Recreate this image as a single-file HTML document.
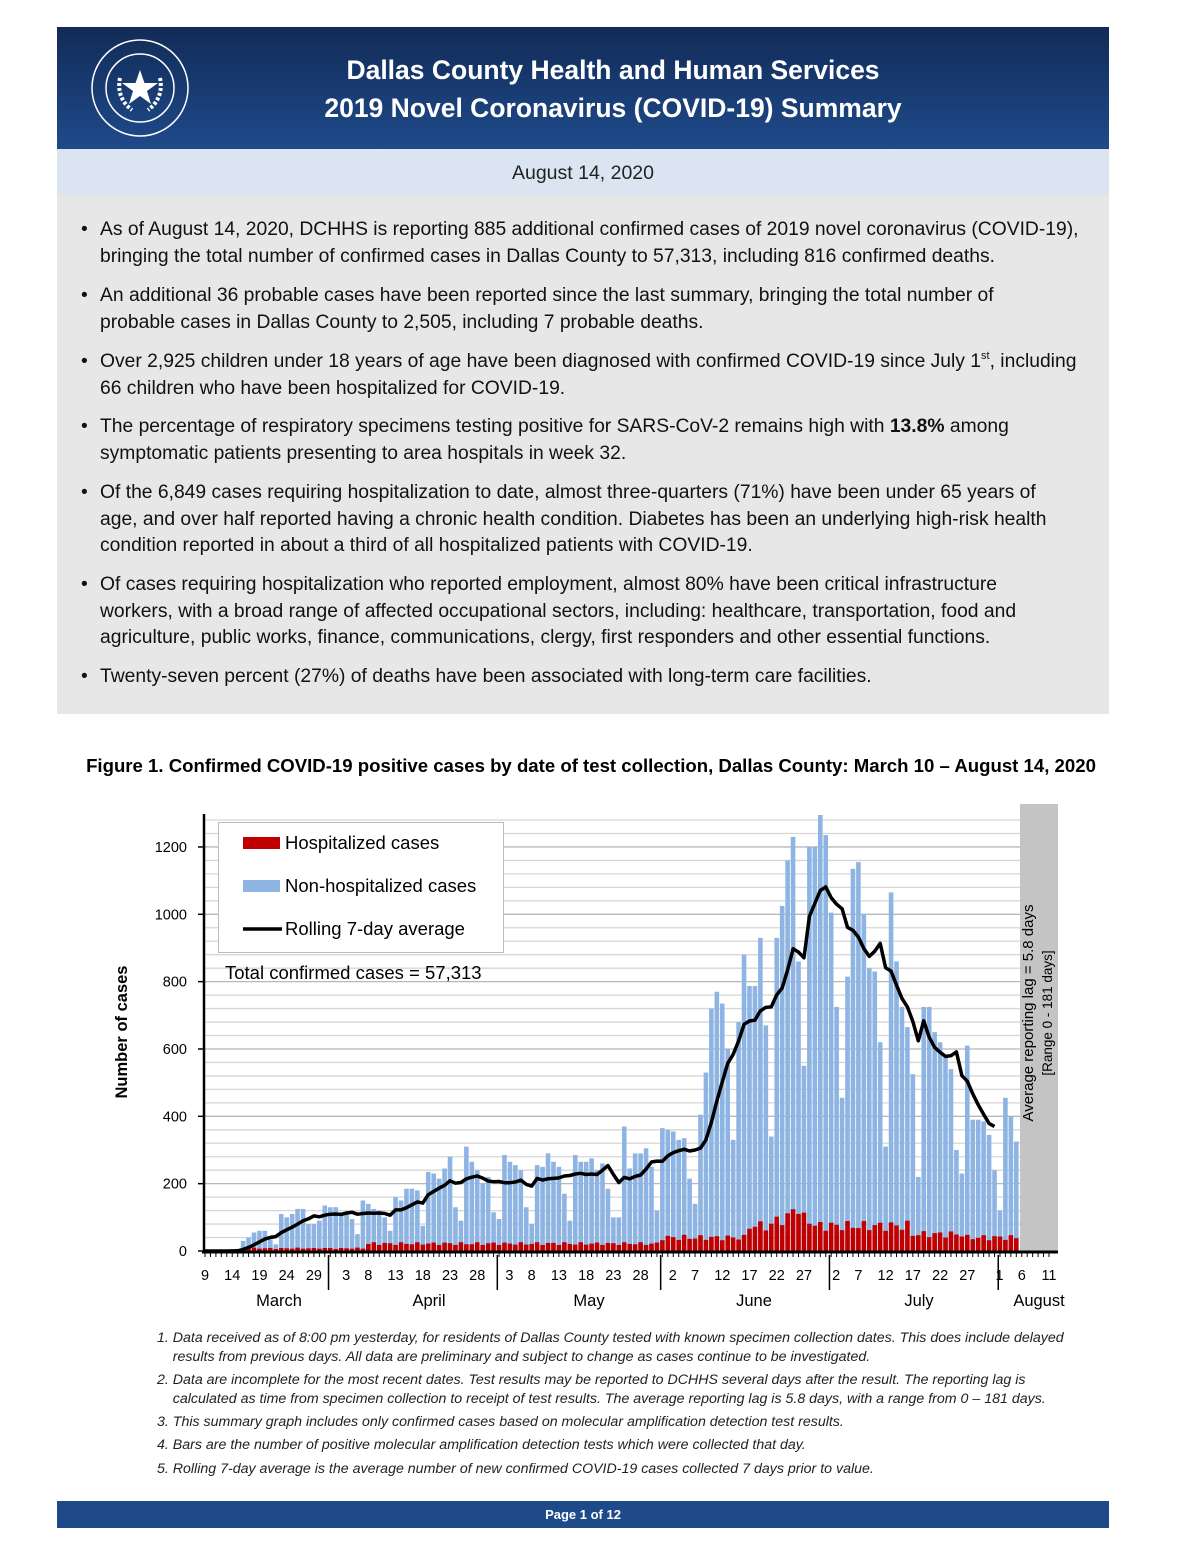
<!DOCTYPE html>
<html><head><meta charset="utf-8"><style>
*{margin:0;padding:0}
body{width:1200px;height:1554px;background:#fff;position:relative;font-family:"Liberation Sans",sans-serif;overflow:hidden}
.abs{position:absolute}
#hdr{left:57px;top:27px;width:1052px;height:122px;background:linear-gradient(#112b57,#1f4a8a)}
#hdr .t{position:absolute;left:156px;width:800px;text-align:center;color:#fff;font-weight:bold;font-size:26.5px;line-height:38px;top:24px;white-space:nowrap}
#date{left:57px;top:149px;width:1052px;height:46px;background:#dbe5f1;text-align:center;font-size:19.5px;line-height:48px;color:#222}
#box{left:57px;top:195px;width:1052px;height:519px;background:#e7e7e7}
.b{position:absolute;left:100px;font-size:19.3px;line-height:26.5px;color:#111;white-space:nowrap}
.b:before{content:"\2022";position:absolute;left:-19px}
sup{font-size:11px;line-height:0;vertical-align:0;position:relative;top:-8px}
#ft{left:57px;top:1501px;width:1052px;height:27px;background:#1f4a8a;color:#fff;font-weight:bold;font-size:13px;text-align:center;line-height:27px}
.fn{position:absolute;left:157px;font-style:italic;font-size:14.2px;line-height:19px;color:#222;white-space:nowrap}
</style></head><body>
<div id="hdr" class="abs">
<svg class="abs" style="left:33px;top:11px" width="100" height="100" viewBox="0 0 100 100">
<circle cx="50" cy="50" r="48" fill="none" stroke="#fff" stroke-width="1.5"/>
<circle cx="50" cy="50" r="34" fill="none" stroke="#fff" stroke-width="1.5"/>
<polygon points="50,32 54.5,45 68,45 57,53 61,66 50,58 39,66 43,53 32,45 45.5,45" fill="#fff"/>
<path d="M30,40 Q26,60 42,72 M70,40 Q74,60 58,72" stroke="#fff" stroke-width="4" fill="none" stroke-dasharray="3 2"/>
</svg>
<div class="t">Dallas County Health and Human Services<br>2019 Novel Coronavirus (COVID-19) Summary</div>
</div>
<div id="date" class="abs">August 14, 2020</div>
<div id="box" class="abs"></div>
<div class="b" style="top:217px">As of August 14, 2020, DCHHS is reporting 885 additional confirmed cases of 2019 novel coronavirus (COVID-19),<br>bringing the total number of confirmed cases in Dallas County to 57,313, including 816 confirmed deaths.</div>
<div class="b" style="top:283px">An additional 36 probable cases have been reported since the last summary, bringing the total number of<br>probable cases in Dallas County to 2,505, including 7 probable deaths.</div>
<div class="b" style="top:349px">Over 2,925 children under 18 years of age have been diagnosed with confirmed COVID-19 since July 1<sup>st</sup>, including<br>66 children who have been hospitalized for COVID-19.</div>
<div class="b" style="top:414px">The percentage of respiratory specimens testing positive for SARS-CoV-2 remains high with <b>13.8%</b> among<br>symptomatic patients presenting to area hospitals in week 32.</div>
<div class="b" style="top:480px">Of the 6,849 cases requiring hospitalization to date, almost three-quarters (71%) have been under 65 years of<br>age, and over half reported having a chronic health condition.  Diabetes has been an underlying high-risk health<br>condition reported in about a third of all hospitalized patients with COVID-19.</div>
<div class="b" style="top:572px">Of cases requiring hospitalization who reported employment, almost 80% have been critical infrastructure<br>workers, with a broad range of affected occupational sectors, including: healthcare, transportation, food and<br>agriculture, public works, finance, communications, clergy, first responders and other essential functions.</div>
<div class="b" style="top:664px">Twenty-seven percent (27%) of deaths have been associated with long-term care facilities.</div>
<div class="abs" style="left:0;width:1182px;text-align:center;top:755px;font-weight:bold;font-size:18.6px;white-space:nowrap">Figure 1. Confirmed COVID-19 positive cases by date of test collection, Dallas County: March 10 – August 14, 2020</div>
<svg id="ch" class="abs" style="left:0;top:0" width="1200" height="1554"></svg>
<div class="fn" style="top:1329px">1.  Data received as of 8:00 pm yesterday, for residents of Dallas County tested with known specimen collection dates.  This does include delayed<br>&nbsp;&nbsp;&nbsp;&nbsp;results from previous days. All data are preliminary and subject to change as cases continue to be investigated.</div>
<div class="fn" style="top:1371px">2.  Data are incomplete for the most recent dates. Test results may be reported to DCHHS several days after the result. The reporting lag is<br>&nbsp;&nbsp;&nbsp;&nbsp;calculated as time from specimen collection to receipt of test results. The average reporting lag is 5.8 days, with a range from 0 – 181 days.</div>
<div class="fn" style="top:1413px">3.  This summary graph includes only confirmed cases based on molecular amplification detection test results.</div>
<div class="fn" style="top:1436px">4.  Bars are the number of positive molecular amplification detection tests which were collected that day.</div>
<div class="fn" style="top:1460px">5.  Rolling 7-day average is the average number of new confirmed COVID-19 cases collected 7 days prior to value.</div>
<div id="ft" class="abs">Page 1 of 12</div>
<script>
var T=[0,0,0,0,1,1,2,30,40,55,60,60,35,20,110,100,110,125,125,80,80,90,135,130,130,115,110,95,50,150,140,125,120,100,60,160,150,185,185,180,75,235,230,215,245,280,130,90,310,265,240,200,220,115,95,285,265,255,240,130,80,255,250,290,265,250,170,90,285,265,265,275,240,260,185,100,100,370,245,290,290,305,250,120,365,360,355,330,335,215,140,405,530,720,770,735,600,330,680,880,787,787,930,670,340,930,1025,1160,1230,860,550,1200,1200,1295,1235,1005,725,455,815,1135,1155,1000,840,830,620,310,1065,860,725,665,525,220,725,725,650,620,580,540,300,230,610,390,390,385,345,240,120,455,400,325];
function H(i){var t=T[i];if(!t)return 0;var b=i<30?8:i<84?22:i<100?40:i<112?75:i<130?75:i<140?50:40;
b=i>=105&&i<=111?95+ (i==108?35:i==109?30:0):b;return Math.min(t,Math.round(b+ (Math.sin(i*2.3)*0.2*b)));}
var X0=205,DW=5.445,Y0=1251,S=0.3367,s='';
function y(v){return Y0-v*S}
for(var v=40;v<=1280;v+=40){s+='<line x1="204" x2="1020" y1="'+y(v)+'" y2="'+y(v)+'" stroke="'+(v%200?'#d6d6d6':'#b8b8b8')+'" stroke-width="1.3"/>';}
s+='<rect x="1020" y="804" width="38" height="447" fill="#c4c4c4"/>';
for(var i=0;i<T.length;i++){var x=X0+i*DW-2.3,t=T[i],h=H(i);if(t){s+='<rect x="'+x+'" y="'+y(t)+'" width="4.6" height="'+(t*S)+'" fill="#8eb4e3"/>';s+='<rect x="'+x+'" y="'+y(h)+'" width="4.6" height="'+(h*S)+'" fill="#c00000"/>';}}
var p=[];for(var i=0;i<=145;i++){var a=0;for(var k=i-6;k<=i;k++)a+=(T[k]||0);a/=7;p.push((X0+i*DW).toFixed(1)+','+y(a).toFixed(1));}
s+='<polyline points="'+p.join(' ')+'" fill="none" stroke="#000" stroke-width="3.5" stroke-linejoin="round"/>';
s+='<line x1="204" x2="204" y1="814" y2="1253" stroke="#000" stroke-width="2.5"/>';
s+='<line x1="202" x2="1058" y1="1252" y2="1252" stroke="#000" stroke-width="3"/>';
for(var i=0;i<=155;i++){var x=X0+i*DW;s+='<line x1="'+x+'" x2="'+x+'" y1="1252" y2="1257" stroke="#000" stroke-width="1"/>';}
for(var v=0;v<=1200;v+=200){s+='<line x1="198" x2="204" y1="'+y(v)+'" y2="'+y(v)+'" stroke="#000" stroke-width="1.5"/><text x="187" y="'+(y(v)+5)+'" text-anchor="end" font-size="14.5">'+v+'</text>';}
var L=[[0,9],[5,14],[10,19],[15,24],[20,29],[25,3],[30,8],[35,13],[40,18],[45,23],[50,28],[55,3],[60,8],[65,13],[70,18],[75,23],[80,28],[85,2],[90,7],[95,12],[100,17],[105,22],[110,27],[115,2],[120,7],[125,12],[130,17],[135,22],[140,27],[145,1],[150,6],[155,11]];
L.forEach(function(l){s+='<text x="'+(X0+l[0]*DW+(l[1]<4?5:0))+'" y="1280" text-anchor="middle" font-size="14.5">'+l[1]+'</text>';});
[23,54,84,115,146].forEach(function(d){var x=X0+(d-0.5)*DW+1;s+='<line x1="'+x+'" x2="'+x+'" y1="1255" y2="1290" stroke="#000" stroke-width="1.5"/>';});
[["March",279],["April",429],["May",589],["June",754],["July",919],["August",1039]].forEach(function(m){s+='<text x="'+m[1]+'" y="1306" text-anchor="middle" font-size="16.5">'+m[0]+'</text>';});
s+='<rect x="218.5" y="822.5" width="285" height="130" fill="#fff" stroke="#bbb"/>';
s+='<rect x="243" y="837" width="37" height="12" fill="#c00000"/><text x="285" y="849" font-size="18.5">Hospitalized cases</text>';
s+='<rect x="243" y="880" width="37" height="12" fill="#8eb4e3"/><text x="285" y="892" font-size="18.5">Non-hospitalized cases</text>';
s+='<line x1="243" x2="282" y1="929" y2="929" stroke="#000" stroke-width="3.5"/><text x="285" y="935" font-size="18.5">Rolling 7-day average</text>';
s+='<text x="225" y="979" font-size="18.5">Total confirmed cases = 57,313</text>';
s+='<text transform="translate(127,1032) rotate(-90)" text-anchor="middle" font-weight="bold" font-size="16.5">Number of cases</text>';
s+='<text transform="translate(1033,1013) rotate(-90)" text-anchor="middle" font-size="15">Average reporting lag = 5.8 days</text>';
s+='<text transform="translate(1052,1013) rotate(-90)" text-anchor="middle" font-size="13.5">[Range 0 - 181 days]</text>';
document.getElementById('ch').innerHTML=s;
</script>
</body></html>
